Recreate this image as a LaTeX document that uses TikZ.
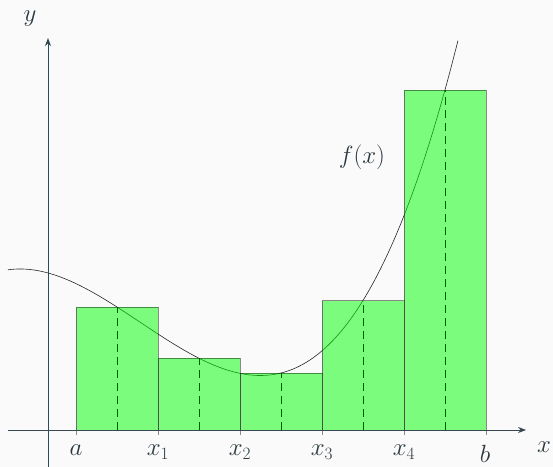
\documentclass[tikz,border=0pt]{standalone}
\usetikzlibrary{arrows.meta}
\definecolor{bgc}{HTML}{FAFAFA}
\definecolor{axc}{HTML}{37474F}
\definecolor{txc}{HTML}{2B383E}
\begin{document}
\begin{tikzpicture}[x=82pt,y=82pt,
  declare function={f(\t)=1.915-0.2737*\t-0.3483*\t*\t+0.1033*\t*\t*\t;},
  axisline/.style={draw=axc,line width=0.9pt,-{Stealth[length=8pt,width=6pt,inset=2.5pt]}},
  curveline/.style={draw=black!85,line width=0.6pt},
  rectbox/.style={fill=green,fill opacity=0.5,draw=black,draw opacity=0.45,line width=0.8pt},
  midline/.style={draw=black!80,line width=0.7pt,dash pattern=on 8pt off 5pt},
  ticklet/.style={draw=black,draw opacity=0.45,line width=0.8pt},
  lbl/.style={text=txc,inner sep=0pt,font=\fontsize{26.5}{31}\selectfont}
]
\useasboundingbox[fill=bgc] (-0.5854,-0.4512) rectangle (6.1585,5.2439);
% curve
\draw[curveline] plot[domain=-0.488:5.0,samples=120,smooth] (\x,{f(\x)});
% rectangles
\foreach \i in {0,...,4}{
  \draw[rectbox] ({0.341+\i},0) rectangle ({1.341+\i},{f(0.841+\i)});
}
% midpoint dashed lines
\foreach \i in {0,...,4}{
  \draw[midline] ({0.841+\i},0) -- ({0.841+\i},{f(0.841+\i)});
}
% ticks
\foreach \i in {0,...,5}{
  \draw[ticklet] ({0.341+\i},0) -- ({0.341+\i},-0.06);
}
% axes
\draw[axisline] (-0.488,0) -- (5.83,0);
\draw[axisline] (0,-0.4512) -- (0,4.78);
% labels
\node[lbl,anchor=north] (la) at (0.341,-0.183) {$a$};
\node[lbl,anchor=north] (l1) at (1.341,-0.183) {$x_1$};
\node[lbl,anchor=north] (l2) at (2.341,-0.183) {$x_2$};
\node[lbl,anchor=north] (l3) at (3.341,-0.183) {$x_3$};
\node[lbl,anchor=north] (l4) at (4.341,-0.183) {$x_4$};
\node[lbl,anchor=north] (lb) at (5.329,-0.183) {$b$};
\node[lbl] (lx) at (6.049,-0.207) {$x$};
\node[lbl] (ly) at (-0.2195,5.018) {$y$};
\node[lbl] (lf) at (3.829,3.329) {$f(x)$};
\end{tikzpicture}
\end{document}
